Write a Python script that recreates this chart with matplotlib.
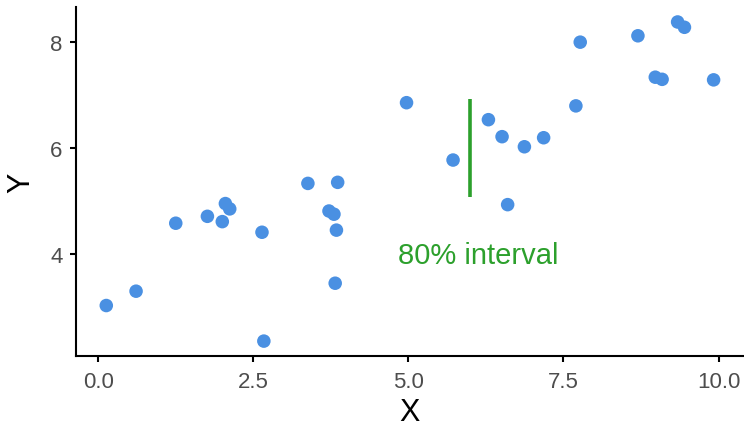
import matplotlib
matplotlib.use('Agg')
import matplotlib.pyplot as plt

plt.rcParams['font.family'] = ['Liberation Sans', 'DejaVu Sans']

# scatter data
x = [0.13, 0.61, 1.25, 1.76, 2.00, 2.05, 2.12, 2.64, 2.67, 3.38,
     3.86, 3.72, 3.80, 3.84, 3.82, 4.97, 5.72, 6.29, 6.51, 6.60,
     6.87, 7.18, 7.70, 7.77, 8.70, 9.34, 9.45, 8.98, 9.09, 9.92]
y = [3.03, 3.30, 4.58, 4.71, 4.61, 4.95, 4.85, 4.41, 2.36, 5.33,
     5.35, 4.81, 4.75, 4.45, 3.45, 6.85, 5.77, 6.53, 6.21, 4.93,
     6.02, 6.19, 6.79, 7.99, 8.11, 8.37, 8.27, 7.33, 7.29, 7.28]

# interval at x = 6
interval_x = 6.0
interval_lo, interval_hi = 5.08, 6.92
interval_label = '80% interval'

fig = plt.figure(figsize=(7.44, 4.27), dpi=100)
ax = fig.add_axes([0.102, 0.164, 0.898, 0.817])

ax.scatter(x, y, s=95, color='#4A90E2', edgecolors='none', zorder=3)
ax.plot([interval_x, interval_x], [interval_lo, interval_hi], color='#2CA02C',
        lw=2.6, solid_capstyle='butt', zorder=2)
ax.text(6.12, 3.99, interval_label, color='#2CA02C', fontsize=21,
        ha='center', va='center')

ax.set_xlim(-0.36, 10.41)
ax.set_ylim(2.08, 8.65)
ax.set_xticks([0, 2.5, 5, 7.5, 10])
ax.set_xticklabels(['0.0', '2.5', '5.0', '7.5', '10.0'])
ax.set_yticks([4, 6, 8])

for side in ['top', 'right']:
    ax.spines[side].set_visible(False)
for side in ['left', 'bottom']:
    ax.spines[side].set_linewidth(1.5)
ax.tick_params(length=4.5, width=1.5, labelsize=16, labelcolor='#4D4D4D')
ax.tick_params(axis='x', pad=6)
ax.tick_params(axis='y', pad=5)

ax.set_xlabel('X', fontsize=22, labelpad=4)
ax.set_ylabel('Y', fontsize=22, labelpad=10)

fig.savefig('out.png', dpi=100)
